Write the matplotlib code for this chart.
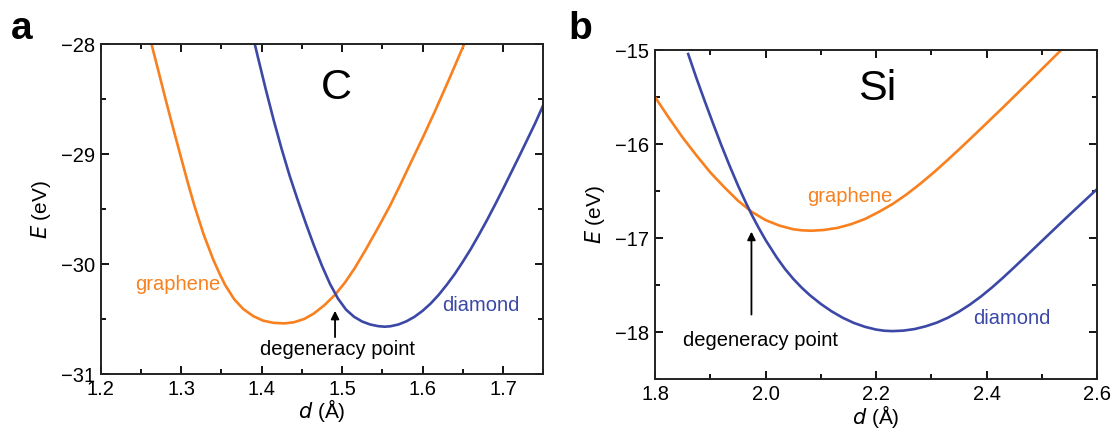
import matplotlib
matplotlib.use("Agg")
import matplotlib.pyplot as plt
from matplotlib.ticker import MultipleLocator, FormatStrFormatter

plt.rcParams['font.family'] = ['Liberation Sans', 'DejaVu Sans']

# ---- Panel a: Carbon ----
c_graphene_d = [1.2615, 1.2710, 1.2814, 1.2900, 1.2988, 1.3080, 1.3166, 1.3280, 1.3400, 1.3480,
                1.3547, 1.3660, 1.3774, 1.3900, 1.4020, 1.4150, 1.4283, 1.4400, 1.4530, 1.4650,
                1.4780, 1.4913, 1.5040, 1.5160, 1.5286, 1.5440, 1.5596, 1.5730, 1.5866, 1.6010,
                1.6155, 1.6330, 1.6500, 1.6530]
c_graphene_E = [-27.95, -28.22, -28.52, -28.76, -29.00, -29.25, -29.47, -29.73, -29.96, -30.09,
                -30.19, -30.32, -30.41, -30.475, -30.515, -30.535, -30.54, -30.53, -30.50, -30.45,
                -30.375, -30.28, -30.165, -30.035, -29.88, -29.68, -29.47, -29.27, -29.06, -28.84,
                -28.61, -28.32, -28.03, -27.98]
c_diamond_d = [1.3898, 1.395, 1.405, 1.415, 1.425, 1.435, 1.445, 1.455, 1.465, 1.475,
               1.485, 1.495, 1.505, 1.515, 1.525, 1.535, 1.545, 1.553, 1.560, 1.570,
               1.580, 1.590, 1.600, 1.610, 1.620, 1.630, 1.640, 1.650, 1.660, 1.670,
               1.680, 1.690, 1.700, 1.710, 1.720, 1.730, 1.740, 1.750]
c_diamond_E = [-27.945, -28.105, -28.405, -28.69, -28.955, -29.20, -29.42, -29.63, -29.83, -30.015,
               -30.18, -30.315, -30.415, -30.48, -30.523, -30.55, -30.565, -30.57, -30.566, -30.55,
               -30.521, -30.48, -30.426, -30.36, -30.281, -30.19, -30.091, -29.98, -29.863, -29.735,
               -29.602, -29.462, -29.318, -29.17, -29.022, -28.871, -28.719, -28.555]

# ---- Panel b: Silicon ----
si_graphene_d = [1.800, 1.825, 1.850, 1.875, 1.900, 1.925, 1.950, 1.975, 2.000, 2.025,
                 2.050, 2.065, 2.082, 2.105, 2.130, 2.155, 2.180, 2.205, 2.230, 2.255,
                 2.280, 2.305, 2.330, 2.355, 2.380, 2.405, 2.430, 2.455, 2.480, 2.505,
                 2.530, 2.540]
si_graphene_E = [-15.50, -15.72, -15.93, -16.12, -16.30, -16.455, -16.60, -16.719, -16.8065, -16.865,
                 -16.904, -16.915, -16.92, -16.912, -16.89, -16.85, -16.795, -16.72, -16.636, -16.535,
                 -16.421, -16.298, -16.166, -16.03, -15.891, -15.75, -15.609, -15.465, -15.321, -15.175,
                 -15.03, -14.97]
si_diamond_d = [1.860, 1.875, 1.890, 1.905, 1.920, 1.935, 1.950, 1.9625, 1.975, 1.9875,
                2.000, 2.020, 2.035, 2.050, 2.065, 2.080, 2.100, 2.120, 2.140, 2.160,
                2.180, 2.200, 2.215, 2.230, 2.250, 2.270, 2.290, 2.310, 2.330, 2.350,
                2.370, 2.390, 2.410, 2.430, 2.450, 2.470, 2.490, 2.510, 2.530, 2.550,
                2.575, 2.600]
si_diamond_E = [-15.0425, -15.30, -15.5435, -15.78, -16.0115, -16.23, -16.4375, -16.598, -16.75, -16.888,
                -17.0175, -17.2015, -17.324, -17.4295, -17.522, -17.6035, -17.697, -17.7775, -17.845, -17.8995,
                -17.9405, -17.9695, -17.982, -17.986, -17.9805, -17.964, -17.935, -17.896, -17.844, -17.78,
                -17.704, -17.618, -17.522, -17.418, -17.309, -17.198, -17.086, -16.974, -16.862, -16.751,
                -16.614, -16.478]

ORANGE = '#F8801E'
BLUE = '#3B48A6'
FS = 14.5

fig = plt.figure(figsize=(11.11, 4.29), dpi=100)
axa = fig.add_axes([0.0905, 0.1282, 0.3985, 0.7692])
axb = fig.add_axes([0.5896, 0.1154, 0.3978, 0.7680])

def style(ax):
    for s in ax.spines.values():
        s.set_linewidth(1.4)
        s.set_color('#222222')
    ax.tick_params(which='both', direction='in', top=True, right=True, width=1.3,
                   labelsize=14.5, pad=4)
    ax.tick_params(which='major', length=6)
    ax.tick_params(which='minor', length=3.5)

# panel a
axa.plot(c_graphene_d, c_graphene_E, color=ORANGE, lw=1.9)
axa.plot(c_diamond_d, c_diamond_E, color=BLUE, lw=1.9)
axa.set_xlim(1.2, 1.75)
axa.set_ylim(-31, -28)
axa.xaxis.set_major_locator(MultipleLocator(0.1))
axa.xaxis.set_minor_locator(MultipleLocator(0.05))
axa.yaxis.set_major_locator(MultipleLocator(1))
axa.yaxis.set_minor_locator(MultipleLocator(0.5))
axa.xaxis.set_major_formatter(FormatStrFormatter('%.1f'))
style(axa)
axa.set_xlabel(r'$d$ (Å)', fontsize=15, labelpad=-1)
axa.set_ylabel(r'$E$ (eV)', fontsize=15, labelpad=6)
axa.text(1.4925, -28.4, 'C', fontsize=31, ha='center', va='center')
axa.text(1.2963, -30.19, 'graphene', color=ORANGE, fontsize=FS, ha='center', va='center')
axa.text(1.6726, -30.38, 'diamond', color=BLUE, fontsize=FS, ha='center', va='center')
axa.text(1.4938, -30.78, 'degeneracy point', color='black', fontsize=FS, ha='center', va='center')
axa.annotate('', xy=(1.4913, -30.40), xytext=(1.4913, -30.69),
             arrowprops=dict(arrowstyle='-|>', color='black', lw=1.3, mutation_scale=12))

# panel b
axb.plot(si_graphene_d, si_graphene_E, color=ORANGE, lw=1.9)
axb.plot(si_diamond_d, si_diamond_E, color=BLUE, lw=1.9)
axb.set_xlim(1.8, 2.6)
axb.set_ylim(-18.5, -15)
axb.xaxis.set_major_locator(MultipleLocator(0.2))
axb.xaxis.set_minor_locator(MultipleLocator(0.1))
axb.yaxis.set_major_locator(MultipleLocator(1))
axb.yaxis.set_minor_locator(MultipleLocator(0.5))
axb.xaxis.set_major_formatter(FormatStrFormatter('%.1f'))
style(axb)
axb.set_xlabel(r'$d$ (Å)', fontsize=15, labelpad=-1)
axb.set_ylabel(r'$E$ (eV)', fontsize=15, labelpad=6)
axb.text(2.2018, -15.415, 'Si', fontsize=31, ha='center', va='center')
axb.text(2.1533, -16.56, 'graphene', color=ORANGE, fontsize=FS, ha='center', va='center')
axb.text(2.445, -17.855, 'diamond', color=BLUE, fontsize=FS, ha='center', va='center')
axb.text(1.991, -18.085, 'degeneracy point', color='black', fontsize=FS, ha='center', va='center')
axb.annotate('', xy=(1.9745, -16.90), xytext=(1.9745, -17.84),
             arrowprops=dict(arrowstyle='-|>', color='black', lw=1.3, mutation_scale=12))

fig.text(0.010, 0.975, 'a', fontsize=28, fontweight='bold', va='top', ha='left')
fig.text(0.512, 0.975, 'b', fontsize=28, fontweight='bold', va='top', ha='left')

fig.savefig('out.png', dpi=100)
